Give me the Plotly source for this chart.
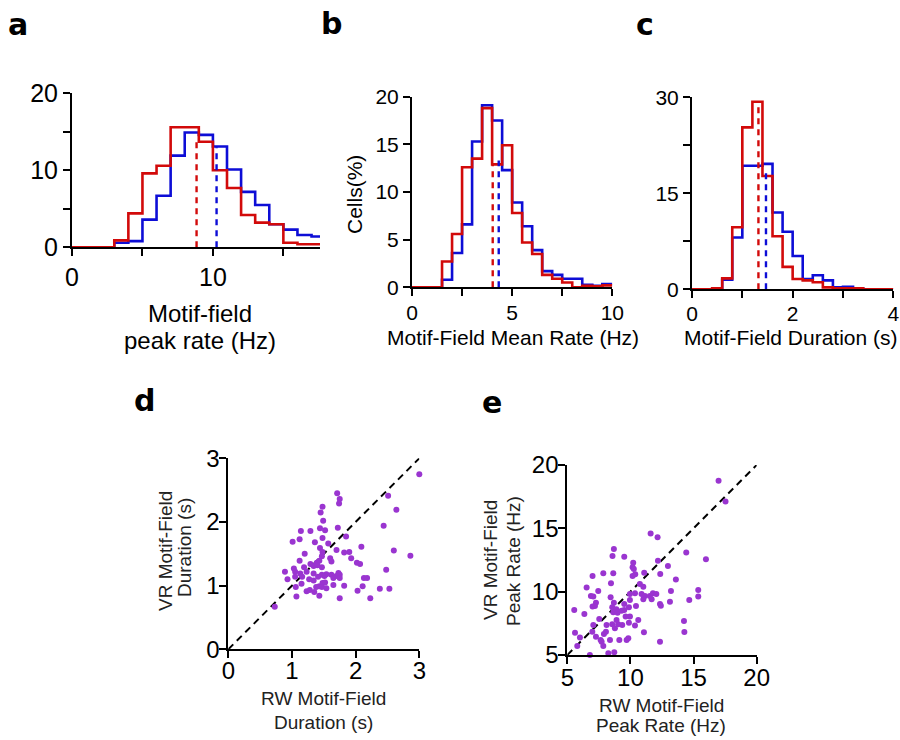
import plotly.graph_objects as go

# ---------------- data ----------------
# Panel a: motif-field peak rate (Hz), bins 1 Hz
a_edges = [0, 1, 2, 3, 4, 5, 6, 7, 8, 9, 10, 11, 12, 13, 14, 15, 16, 17, 18]
a_blue = [0, 0, 0, 0.6, 0.8, 3.6, 6.7, 11.9, 14.9, 14.6, 13.1, 10.1, 7.2, 5.5, 3.0, 2.3, 1.6, 1.4]
a_red = [0, 0, 0, 0.9, 4.4, 9.6, 10.6, 15.6, 15.6, 13.7, 10.0, 7.7, 4.2, 3.2, 3.0, 0.6, 0.4, 0.4]
a_med_x = [10.26, 8.84]          # blue, red
a_med_top = [13.0, 13.7]

# Panel b: motif-field mean rate (Hz), bins 0.5 Hz
b_edges = [0, 0.5, 1, 1.5, 2, 2.5, 3, 3.5, 4, 4.5, 5, 5.5, 6, 6.5, 7, 7.5, 8, 8.5, 9, 9.5, 10]
b_blue = [0, 0, 0, 0.8, 3.6, 6.6, 15.3, 19.1, 17.5, 12.3, 8.9, 6.4, 3.9, 1.7, 1.3, 0.9, 0.9, 0.25, 0.15, 0.35]
b_red = [0, 0, 0, 2.7, 5.6, 12.6, 13.5, 18.8, 12.9, 14.9, 7.8, 4.7, 3.5, 1.3, 0.9, 0.5, 0, 0.15, 0.1, 0.2]
b_med_x = [4.33, 4.03]
b_med_top = [13.3, 12.9]

# Panel c: motif-field duration (s), bins 0.2 s
c_edges = [0, 0.2, 0.4, 0.6, 0.8, 1.0, 1.2, 1.4, 1.6, 1.8, 2.0, 2.2, 2.4, 2.6, 2.8, 3.0, 3.2, 3.4, 3.6, 3.8, 4.0]
c_blue = [0, 0, 0, 1.5, 8.1, 19.3, 19.3, 19.6, 12.0, 9.0, 5.2, 1.6, 2.2, 1.4, 0.3, 0.4, 0.15, 0, 0, 0]
c_red = [0, 0, 0.15, 1.7, 9.7, 25.3, 29.3, 17.7, 8.3, 3.5, 1.6, 1.4, 1.1, 0.3, 0.15, 0.15, 0.15, 0, 0, 0]
c_med_x = [1.47, 1.32]
c_med_top = [18.9, 29.0]

# Panel d: RW vs VR motif-field duration (s)
d_rw = [3.0, 1.71, 1.75, 1.74, 1.48, 1.45, 1.49, 2.51, 2.64, 2.44, 1.14, 1.29, 1.44, 1.52, 1.72,
        1.01, 1.12, 1.36, 1.48, 1.85, 1.57, 1.70, 1.90, 2.09, 2.60, 2.86, 1.44, 1.48, 1.47, 1.20,
        1.82, 1.60, 1.62, 1.93, 2.02, 2.07, 1.12, 1.29, 1.34, 1.39, 1.43, 1.40, 1.47, 1.19, 1.03,
        0.89, 1.05, 1.13, 1.23, 1.34, 1.73, 1.75, 1.70, 1.47, 1.54, 1.62, 2.48, 0.93, 1.05, 1.16,
        1.27, 1.41, 1.51, 1.75, 2.13, 2.18, 1.15, 1.34, 1.43, 1.48, 1.52, 1.65, 1.82, 2.11, 1.06,
        1.38, 1.47, 1.28, 1.35, 1.54, 2.03, 2.38, 2.53, 1.07, 1.43, 1.75, 2.23, 0.73, 1.23, 1.65]
d_vr = [2.75, 2.45, 2.36, 2.29, 2.24, 2.15, 2.02, 2.41, 2.19, 1.94, 1.86, 1.86, 1.90, 1.87, 1.91,
        1.69, 1.73, 1.68, 1.75, 1.77, 1.66, 1.56, 1.53, 1.61, 1.55, 1.47, 1.59, 1.53, 1.46, 1.50,
        1.52, 1.43, 1.38, 1.43, 1.36, 1.34, 1.39, 1.34, 1.31, 1.36, 1.39, 1.32, 1.29, 1.29, 1.27,
        1.22, 1.22, 1.19, 1.22, 1.19, 1.20, 1.17, 1.15, 1.17, 1.18, 1.17, 1.25, 1.10, 1.14, 1.14,
        1.10, 1.14, 1.15, 1.12, 1.12, 1.12, 1.03, 1.08, 0.99, 1.04, 1.05, 1.01, 1.00, 0.99, 0.98,
        0.98, 0.98, 0.93, 0.90, 0.96, 0.92, 0.95, 0.95, 0.83, 0.84, 0.80, 0.80, 0.67, 0.91, 1.12]
d_diag = [0, 3]

# Panel e: RW vs VR motif-field peak rate (Hz)
e_rw = [16.98, 17.53, 11.60, 12.15, 14.42, 15.98, 8.69, 8.58, 9.51, 10.22, 10.17, 10.27, 12.18, 12.97,
        7.0, 7.85, 8.64, 10.38, 10.17, 11.09, 12.36, 13.6, 6.53, 7.45, 6.87, 7.06, 7.27, 7.19, 7.0,
        8.46, 9.96, 9.96, 10.36, 10.75, 11.02, 10.88, 11.15, 11.02, 11.54, 11.78, 12.05, 11.68, 12.34,
        12.41, 13.13, 13.21, 14.66, 15.37, 15.37, 8.43, 8.69, 8.56, 8.88, 8.64, 8.98, 9.3, 9.51, 10.44,
        9.88, 9.51, 9.62, 9.96, 10.62, 10.36, 9.88, 5.55, 6.35, 5.61, 5.79, 6.0, 7.06, 6.98, 7.27, 7.64,
        7.72, 7.9, 8.06, 7.53, 8.11, 8.56, 8.77, 9.03, 9.35, 8.9, 8.38, 9.12, 9.7, 9.83, 7.85, 8.25,
        8.72, 6.79, 11.07, 12.34, 14.24, 14.27]
e_vr = [18.76, 17.11, 14.6, 14.29, 13.1, 12.55, 13.37, 12.82, 12.76, 12.29, 11.92, 11.79, 12.45, 12.03,
        11.24, 11.45, 11.45, 11.37, 11.24, 11.5, 11.39, 10.97, 10.32, 10.05, 9.66, 9.61, 9.13, 8.87, 8.82,
        10.66, 9.82, 9.34, 9.87, 10.6, 10.39, 9.82, 9.66, 9.4, 9.66, 9.87, 9.82, 9.4, 9.03,
        8.89, 9.21, 10.05, 9.34, 10.13, 9.61, 9.55, 9.13, 8.76, 8.61, 8.37, 8.34, 8.5, 9.03, 8.87,
        8.76, 8.55, 8.03, 8.03, 7.76, 7.32, 7.55, 8.55, 8.24, 6.76, 5.71, 6.39, 7.37, 6.84, 6.45, 6.18,
        6.05, 6.66, 6.84, 7.84, 7.37, 7.42, 7.11, 7.42, 7.37, 7.76, 6.18, 6.18, 6.18, 6.32, 5.71, 5.13,
        5.21, 5.0, 6.79, 6.05, 7.68, 6.82]
e_diag = [5, 20]

BLUE = "#0d0dd6"
RED = "#d20a0a"
PURPLE = "#9a35d0"
FONT = "Liberation Sans, Arial, sans-serif"
W, H = 900, 740


def px(x):
    return x / W


def py(y):
    return 1 - y / H


fig = go.Figure()


def step(edges, vals, color, xa, ya):
    fig.add_trace(go.Scatter(x=edges, y=list(vals) + [vals[-1]], mode="lines",
                             line=dict(color=color, width=2.6, shape="hv"),
                             xaxis=xa, yaxis=ya, showlegend=False, hoverinfo="skip"))


def med(xs, tops, xa, ya):
    for xv, tv, col in zip(xs, tops, [BLUE, RED]):
        fig.add_trace(go.Scatter(x=[xv, xv], y=[0, tv], mode="lines",
                                 line=dict(color=col, width=2.4, dash="6px,5px"),
                                 xaxis=xa, yaxis=ya, showlegend=False, hoverinfo="skip"))


# panel a
step(a_edges, a_blue, BLUE, "x", "y")
step(a_edges, a_red, RED, "x", "y")
med(a_med_x, a_med_top, "x", "y")
# panel b
step(b_edges, b_blue, BLUE, "x2", "y2")
step(b_edges, b_red, RED, "x2", "y2")
med(b_med_x, b_med_top, "x2", "y2")
# panel c
step(c_edges, c_blue, BLUE, "x3", "y3")
step(c_edges, c_red, RED, "x3", "y3")
med(c_med_x, c_med_top, "x3", "y3")
# panel d
fig.add_trace(go.Scatter(x=d_diag, y=d_diag, mode="lines", line=dict(color="black", width=2, dash="7px,5px"),
                         xaxis="x4", yaxis="y4", showlegend=False, hoverinfo="skip"))
fig.add_trace(go.Scatter(x=d_rw, y=d_vr, mode="markers", marker=dict(color=PURPLE, size=6),
                         xaxis="x4", yaxis="y4", showlegend=False, cliponaxis=False))
# panel e
fig.add_trace(go.Scatter(x=e_diag, y=e_diag, mode="lines", line=dict(color="black", width=2, dash="7px,5px"),
                         xaxis="x5", yaxis="y5", showlegend=False, hoverinfo="skip"))
fig.add_trace(go.Scatter(x=e_rw, y=e_vr, mode="markers", marker=dict(color=PURPLE, size=6),
                         xaxis="x5", yaxis="y5", showlegend=False, cliponaxis=False))


def axis(domain, rng, tickvals, ticktext, size, anchor, standoff=0):
    return dict(domain=domain, range=rng, tickvals=tickvals, ticktext=ticktext,
                showline=True, linecolor="black", linewidth=2, ticks="outside",
                ticklen=7, tickwidth=2, tickcolor="black", showgrid=False, zeroline=False,
                tickfont=dict(family=FONT, size=size, color="black"), anchor=anchor,
                fixedrange=True, automargin=False, ticklabelstandoff=standoff)


layout = dict(
    width=W, height=H, margin=dict(l=0, r=0, t=0, b=0, pad=0, autoexpand=False),
    paper_bgcolor="white", plot_bgcolor="white",
    xaxis=axis([px(72), px(320)], [0, 17.6], [0, 5, 10, 15], ["0", "", "10", ""], 25, "y"),
    yaxis=axis([py(247.3), py(93.3)], [0, 20], [0, 5, 10, 15, 20], ["0", "", "10", "", "20"], 25, "x"),
    xaxis2=axis([px(412), px(612.3)], [0, 10], [0, 2.5, 5, 7.5, 10], ["0", "", "5", "", "10"], 21, "y2", -2),
    yaxis2=axis([py(287.3), py(96.7)], [0, 20], [0, 5, 10, 15, 20], ["0", "5", "10", "15", "20"], 21, "x2"),
    xaxis3=axis([px(692), px(893.3)], [0, 4], [0, 1, 2, 3, 4], ["0", "", "2", "", "4"], 21, "y3", -3),
    yaxis3=axis([py(289.3), py(97.3)], [0, 30], [0, 7.5, 15, 22.5, 30], ["0", "", "15", "", "30"], 21, "x3"),
    xaxis4=axis([px(228.3), px(419.3)], [0, 3], [0, 1, 2, 3], ["0", "1", "2", "3"], 24, "y4", -8),
    yaxis4=axis([py(649.3), py(458.3)], [0, 3], [0, 1, 2, 3], ["0", "1", "2", "3"], 24, "x4", -5),
    xaxis5=axis([px(567.3), px(756.7)], [5, 20], [5, 10, 15, 20], ["5", "10", "15", "20"], 24, "y5", -7),
    yaxis5=axis([py(655), py(465)], [5, 20], [5, 10, 15, 20], ["5", "10", "15", "20"], 24, "x5", -5),
)
fig.update_layout(**layout)

ann = []


def text(t, x, y, size, angle=0, color="black", family=FONT, bold=False):
    if bold:
        t = "<b>" + t + "</b>"
    ann.append(dict(text=t, x=px(x), y=py(y), xref="paper", yref="paper", showarrow=False,
                    xanchor="center", yanchor="middle", textangle=angle,
                    font=dict(family=family, size=size, color=color)))


# axis titles
text("Motif-field", 200, 313, 24)
text("peak rate (Hz)", 200, 340, 24)
text("Motif-Field Mean Rate (Hz)", 513, 337, 21)
text("Cells(%)", 355, 195, 21, angle=-90)
text("Motif-Field Duration (s)", 791, 337, 21)
text("VR Motif-Field", 165, 551, 19, angle=-90, color="#222")
text("Duration (s)", 184, 548, 19, angle=-90, color="#222")
text("RW Motif-Field", 323, 698, 19, color="#222")
text("Duration (s)", 323, 722, 19, color="#222")
text("VR Motif-Field", 490, 560, 19, angle=-90, color="#222")
text("Peak Rate (Hz)", 513, 561, 19, angle=-90, color="#222")
text("RW Motif-Field", 661, 705, 19, color="#222")
text("Peak Rate (Hz)", 661, 725, 19, color="#222")

# panel letters
LF = "DejaVu Sans, Verdana, sans-serif"
text("a", 18, 24, 30, family=LF, bold=True)
text("b", 331, 23, 30, family=LF, bold=True)
text("c", 645, 25, 30, family=LF, bold=True)
text("d", 144, 400, 30, family=LF, bold=True)
text("e", 492, 402, 30, family=LF, bold=True)

fig.update_layout(annotations=ann)
fig.write_html("out.html")
